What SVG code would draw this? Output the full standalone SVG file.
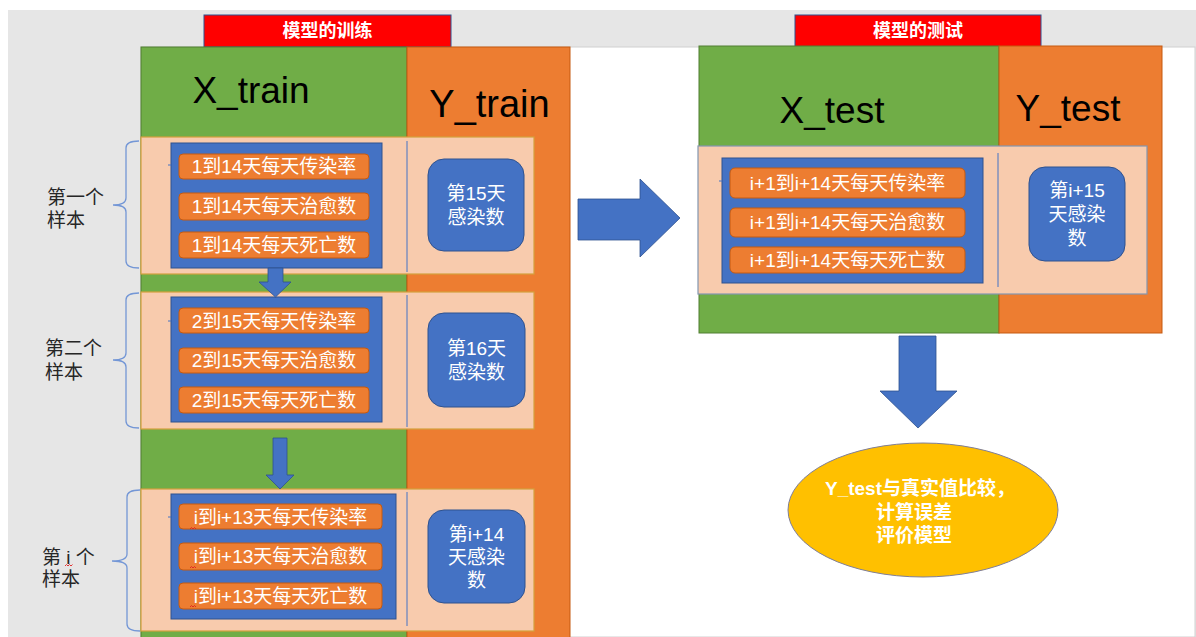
<svg xmlns="http://www.w3.org/2000/svg" width="1196" height="637" viewBox="0 0 1196 637">
  <style>
    .cjk { font-family: "Liberation Sans", "Noto Sans CJK SC", sans-serif; }
    .hdr { font-family: "Liberation Sans", "Noto Sans CJK SC", sans-serif; font-size: 37px; fill: #000; text-anchor: middle; }
    .title { font-family: "Liberation Sans", "Noto Sans CJK SC", sans-serif; font-size: 18px; font-weight: bold; fill: #fff; text-anchor: middle; dominant-baseline: central; }
    .pill { fill: #ed7d31; stroke: #c55a11; stroke-width: 1; }
    .pilltxt { font-family: "Liberation Sans", "Noto Sans CJK SC", sans-serif; font-size: 19px; fill: #fff; text-anchor: middle; dominant-baseline: central; }
    .xbox { fill: #4472c4; stroke: #2f528f; stroke-width: 1; }
    .ybox { fill: #4472c4; stroke: #2f528f; stroke-width: 1; }
    .ytxt { font-family: "Liberation Sans", "Noto Sans CJK SC", sans-serif; font-size: 19px; fill: #fff; text-anchor: middle; dominant-baseline: central; }
    .sample { fill: #f8cbad; stroke: #d4a13c; stroke-width: 1.2; }
    .divider { stroke: #4472c4; stroke-width: 1; }
    .tick { stroke: #4472c4; stroke-width: 1; }
    .brace { fill: none; stroke: #7497d6; stroke-width: 1.3; }
    .label { font-family: "Liberation Sans", "Noto Sans CJK SC", sans-serif; font-size: 19px; fill: #262626; dominant-baseline: central; }
    .arrow { fill: #4472c4; stroke: #2f528f; stroke-width: 0.8; }
    .squig { fill: none; stroke: #e02020; stroke-width: 0.9; }
  </style>

  <!-- window backdrop and slide area -->
  <rect x="8" y="10" width="1188" height="627" fill="#e6e6e6"/>
  <rect x="141" y="47" width="1054" height="590" fill="#ffffff" stroke="#d0d0d0" stroke-width="1"/>

  <!-- training panel -->
  <g id="train-title">
    <rect x="204" y="15" width="247" height="32" fill="#ff0000" stroke="#2f528f" stroke-width="1"/>
    <text class="title" x="327.5" y="31">模型的训练</text>
  </g>
  <g id="train-columns">
    <rect x="141" y="47" width="266" height="595" fill="#70ad47" stroke="#507e32" stroke-width="1"/>
    <rect x="407" y="47" width="163" height="595" fill="#ed7d31" stroke="#c55a11" stroke-width="1"/>
    <text class="hdr" x="251" y="103">X_train</text>
    <text class="hdr" x="489.5" y="117" style="font-size:38px">Y_train</text>
  </g>

  <!-- sample 1 -->
  <g id="sample-1">
    <rect class="sample" x="141" y="137" width="393" height="137"/>
    <line class="divider" x1="407" y1="141" x2="407" y2="272"/>
    <rect class="xbox" x="171" y="143" width="211" height="125"/>
    <line class="tick" x1="168" y1="165" x2="171" y2="165"/>
    <rect class="pill" x="179" y="154" width="190" height="25" rx="4"/>
    <text class="pilltxt" x="274" y="166.5">1到14天每天传染率</text>
    <rect class="pill" x="179" y="193" width="190" height="27" rx="4"/>
    <text class="pilltxt" x="274" y="206.5">1到14天每天治愈数</text>
    <rect class="pill" x="179" y="232" width="190" height="26" rx="4"/>
    <text class="pilltxt" x="274" y="245">1到14天每天死亡数</text>
    <rect class="ybox" x="428" y="159" width="96" height="92" rx="16"/>
    <text class="ytxt" x="476" y="193">第15天</text>
    <text class="ytxt" x="476" y="217">感染数</text>
  </g>
  <g id="sample-1-label">
    <path class="brace" d="M139,141 Q126,141 126,148 L126,198 Q126,205 113,205 Q126,205 126,212 L126,261 Q126,268 139,268"/>
    <text class="label" x="47" y="197">第一个</text>
    <text class="label" x="47" y="220">样本</text>
  </g>

  <!-- sample 2 -->
  <g id="sample-2">
    <rect class="sample" x="141" y="292" width="393" height="137"/>
    <line class="divider" x1="407" y1="295" x2="407" y2="427"/>
    <rect class="xbox" x="171" y="297" width="211" height="125"/>
    <line class="tick" x1="168" y1="321" x2="171" y2="321"/>
    <rect class="pill" x="179" y="308" width="190" height="25" rx="4"/>
    <text class="pilltxt" x="274" y="321">2到15天每天传染率</text>
    <rect class="pill" x="179" y="348" width="190" height="25" rx="4"/>
    <text class="pilltxt" x="274" y="360.5">2到15天每天治愈数</text>
    <rect class="pill" x="179" y="387" width="190" height="26" rx="4"/>
    <text class="pilltxt" x="274" y="400">2到15天每天死亡数</text>
    <rect class="ybox" x="428" y="313" width="97" height="94" rx="16"/>
    <text class="ytxt" x="476.5" y="348">第16天</text>
    <text class="ytxt" x="476.5" y="372">感染数</text>
  </g>
  <g id="sample-2-label">
    <path class="brace" d="M139,293 Q126,293 126,300 L126,353 Q126,360 113,360 Q126,360 126,367 L126,421 Q126,428 139,428"/>
    <text class="label" x="45" y="348">第二个</text>
    <text class="label" x="45" y="372">样本</text>
  </g>

  <!-- sample i -->
  <g id="sample-i">
    <rect class="sample" x="141" y="489" width="393" height="142"/>
    <line class="divider" x1="407" y1="492" x2="407" y2="626"/>
    <rect class="xbox" x="171" y="494" width="225" height="125"/>
    <line class="tick" x1="168" y1="517" x2="171" y2="517"/>
    <rect class="pill" x="179" y="504" width="203" height="25" rx="4"/>
    <text class="pilltxt" x="280.5" y="517">i到i+13天每天传染率</text>
    <path class="squig" d="M190,529 l1.5,-1.5 l1.5,1.5 l1.5,-1.5 l1.5,1.5"/>
    <rect class="pill" x="179" y="543" width="203" height="27" rx="4"/>
    <text class="pilltxt" x="280.5" y="556.5">i到i+13天每天治愈数</text>
    <path class="squig" d="M190,568 l1.5,-1.5 l1.5,1.5 l1.5,-1.5 l1.5,1.5"/>
    <rect class="pill" x="179" y="583" width="203" height="26" rx="4"/>
    <text class="pilltxt" x="280.5" y="596">i到i+13天每天死亡数</text>
    <path class="squig" d="M190,607 l1.5,-1.5 l1.5,1.5 l1.5,-1.5 l1.5,1.5"/>
    <rect class="ybox" x="428" y="510" width="97" height="93" rx="16"/>
    <text class="ytxt" x="476.5" y="534">第i+14</text>
    <text class="ytxt" x="476.5" y="557">天感染</text>
    <text class="ytxt" x="476.5" y="580">数</text>
  </g>
  <g id="sample-i-label">
    <path class="brace" d="M140,490 Q127,490 127,497 L127,554 Q127,561 112,561 Q127,561 127,568 L127,624 Q127,631 140,631"/>
    <text class="label" x="42" y="557" xml:space="preserve">第 i 个</text>
    <path class="squig" d="M65,566 l1.5,-1.5 l1.5,1.5 l1.5,-1.5 l1.5,1.5 l1.5,-1.5"/>
    <text class="label" x="42" y="579">样本</text>
  </g>

  <!-- testing panel -->
  <g id="test-title">
    <rect x="795" y="15" width="246" height="32" fill="#ff0000" stroke="#2f528f" stroke-width="1"/>
    <text class="title" x="918" y="31">模型的测试</text>
  </g>
  <g id="test-columns">
    <rect x="699" y="46" width="300" height="287" fill="#70ad47" stroke="#507e32" stroke-width="1"/>
    <rect x="999" y="46" width="163" height="287" fill="#ed7d31" stroke="#c55a11" stroke-width="1"/>
    <text class="hdr" x="832" y="123">X_test</text>
    <text class="hdr" x="1068" y="121">Y_test</text>
  </g>
  <g id="test-sample">
    <rect x="698" y="146" width="449" height="148" fill="#f8cbad" stroke="#8497b0" stroke-width="1.2"/>
    <line class="divider" x1="998" y1="153" x2="998" y2="287"/>
    <rect class="xbox" x="722" y="158" width="261" height="125"/>
    <line class="tick" x1="719" y1="181" x2="722" y2="181"/>
    <rect class="pill" x="730" y="168" width="235" height="30" rx="5"/>
    <text class="pilltxt" x="847.5" y="183">i+1到i+14天每天传染率</text>
    <rect class="pill" x="730" y="208" width="235" height="29" rx="5"/>
    <text class="pilltxt" x="847.5" y="222.5">i+1到i+14天每天治愈数</text>
    <rect class="pill" x="730" y="247" width="235" height="26" rx="5"/>
    <text class="pilltxt" x="847.5" y="260">i+1到i+14天每天死亡数</text>
    <rect class="ybox" x="1029" y="167" width="96" height="94" rx="16"/>
    <text class="ytxt" x="1077" y="190">第i+15</text>
    <text class="ytxt" x="1077" y="214">天感染</text>
    <text class="ytxt" x="1077" y="238">数</text>
  </g>

  <!-- evaluation -->
  <g id="evaluate">
    <ellipse cx="923" cy="510" rx="135" ry="67" fill="#ffc000" stroke="#7f7f9a" stroke-width="1"/>
    <text class="cjk" x="920" y="488" text-anchor="middle" dominant-baseline="central" font-size="19" font-weight="bold" fill="#fff">Y_test与真实值比较，</text>
    <text class="cjk" x="914" y="512" text-anchor="middle" dominant-baseline="central" font-size="19" font-weight="bold" fill="#fff">计算误差</text>
    <text class="cjk" x="914" y="535" text-anchor="middle" dominant-baseline="central" font-size="19" font-weight="bold" fill="#fff">评价模型</text>
  </g>

  <!-- block arrows -->
  <g id="connectors">
    <path class="arrow" d="M268,268 L283,268 L283,282 L291,282 L275.5,297 L259,282 L268,282 Z"/>
    <path class="arrow" d="M273,438 L287,438 L287,475 L294,475 L280,489 L266,475 L273,475 Z"/>
    <path class="arrow" d="M578,199 L640,199 L640,179 L680,218 L640,257 L640,240 L578,240 Z"/>
    <path class="arrow" d="M899,336 L936,336 L936,391 L957,391 L918,428 L880,391 L899,391 Z"/>
  </g>
</svg>
